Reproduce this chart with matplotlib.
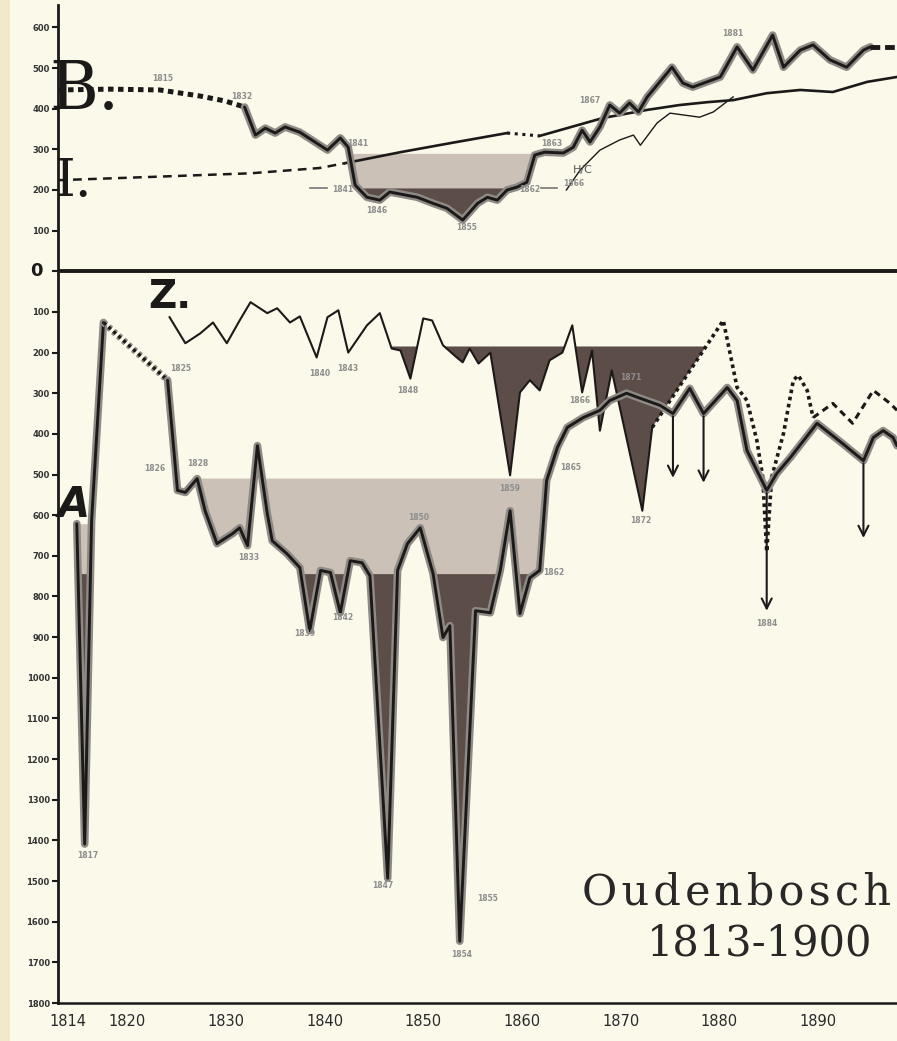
import matplotlib
matplotlib.use("Agg")
import matplotlib.pyplot as plt
import matplotlib.patheffects as pe
import matplotlib.transforms as mtransforms
from matplotlib.patches import Rectangle
import numpy as np

# ---- top panel (values above the zero line) ----
B_DOT_YEARS = [1813.0, 1818.3, 1823.3, 1827.4, 1829.9, 1831.9]
B_DOT_VALUES = [446, 448, 446, 431, 419, 404]
B_YEARS = [1831.9, 1833.0, 1834.0, 1835.0, 1836.0, 1837.5, 1840.3, 1841.6, 1842.4,
           1843.1, 1844.3, 1845.6, 1846.6, 1849.4, 1851.0, 1852.4, 1854.0, 1855.5,
           1856.5, 1857.5, 1858.5, 1859.5, 1860.5, 1861.3, 1862.3, 1864.2, 1865.2,
           1866.1, 1866.9, 1867.9, 1868.9, 1869.9, 1870.9, 1871.8, 1872.7, 1873.7,
           1875.2, 1876.3, 1877.3, 1880.1, 1881.8, 1883.4, 1885.4, 1886.5, 1888.2,
           1889.5, 1891.2, 1892.9, 1894.6, 1895.3]
B_VALUES = [404, 335, 352, 340, 355, 342, 298, 328, 305,
            212, 182, 175, 195, 182, 167, 155, 126, 167,
            182, 175, 200, 207, 219, 286, 293, 291, 305,
            347, 318, 355, 409, 389, 414, 392, 429, 458,
            502, 463, 453, 478, 552, 495, 581, 502, 544,
            557, 520, 502, 544, 552]
B_TAIL_YEARS = [1895.3, 1898.0]
B_TAIL_VALUES = [552, 552]

I_DASH_YEARS = [1813.0, 1822.3, 1832.5, 1839.5, 1842.1]
I_DASH_VALUES = [224, 232, 241, 254, 266]
I_YEARS_1 = [1842.1, 1847.7, 1852.7, 1858.5]
I_VALUES_1 = [266, 293, 315, 340]
I_GAP_YEARS = [1858.5, 1861.8]
I_GAP_VALUES = [340, 333]
I_YEARS_2 = [1861.8, 1868.2, 1872.7, 1876.0, 1878.8, 1881.4, 1884.8, 1888.2,
             1891.5, 1895.0, 1898.0]
I_VALUES_2 = [333, 377, 397, 409, 416, 421, 438, 446, 441, 466, 478]

HC_YEARS = [1864.5, 1865.9, 1867.9, 1869.9, 1871.3, 1872.0, 1873.7, 1875.0,
            1878.0, 1879.4, 1881.4]
HC_VALUES = [200, 249, 298, 323, 335, 310, 365, 389, 379, 392, 429]

TOP_LIGHT_LEVEL = 290
TOP_DARK_LEVEL = 205

# ---- bottom panel (values counted downward from the zero line) ----
A_YEARS = [1814.9, 1815.7, 1816.4, 1817.6, 1824.1, 1825.1, 1825.9, 1827.1, 1827.9,
           1829.1, 1830.7, 1831.4, 1832.2, 1833.2, 1834.2, 1834.7, 1836.2, 1837.5,
           1838.5, 1839.6, 1840.6, 1841.6, 1842.6, 1843.8, 1844.6, 1846.4, 1847.4,
           1848.4, 1849.7, 1851.0, 1852.0, 1852.7, 1853.7, 1855.3, 1856.8, 1857.8,
           1858.8, 1859.8, 1860.8, 1861.8, 1862.5, 1863.6, 1864.6, 1866.2, 1867.9,
           1868.9, 1870.6, 1871.7, 1874.0, 1875.3, 1877.0, 1878.4, 1880.8, 1881.8,
           1882.8, 1883.8, 1884.8, 1885.8, 1887.2, 1889.9, 1891.2, 1892.5, 1894.6,
           1895.6, 1896.6, 1897.6, 1898.0]
A_VALUES = [621, 1409, 613, 126, 268, 539, 544, 510, 589,
            670, 645, 631, 675, 429, 596, 663, 695, 729,
            884, 736, 741, 840, 712, 717, 749, 1493, 736,
            670, 631, 744, 901, 872, 1648, 835, 840, 736,
            589, 842, 754, 736, 515, 433, 384, 360, 342,
            318, 300, 310, 330, 350, 288, 350, 286, 318,
            441, 490, 539, 498, 458, 374, 399, 424, 466,
            409, 392, 409, 429]
A_DOTTED = (3, 4)  # index range drawn dotted (1817-1824)

Z_YEARS = [1824.3, 1825.9, 1827.4, 1828.7, 1830.1, 1831.4, 1832.5, 1834.2, 1835.2,
           1836.5, 1837.5, 1839.2, 1840.3, 1841.4, 1842.4, 1844.3, 1845.6, 1846.8,
           1847.7, 1848.7, 1850.0, 1850.9, 1852.0, 1853.4, 1854.0, 1854.7, 1855.6,
           1856.8, 1858.8, 1859.8, 1860.8, 1861.8, 1862.8, 1864.1, 1865.1, 1866.1,
           1867.1, 1867.9, 1869.1, 1872.2, 1873.2]
Z_VALUES = [113, 177, 153, 126, 177, 121, 76, 103, 91,
            126, 111, 212, 113, 96, 200, 133, 103, 190,
            195, 264, 116, 121, 182, 212, 224, 190, 227,
            200, 502, 298, 268, 293, 219, 200, 133, 298,
            195, 392, 244, 589, 384]
ZD_YEARS = [1873.2, 1880.4, 1881.8, 1882.8, 1883.8, 1884.4, 1884.8, 1885.3, 1886.5,
            1887.5, 1888.0, 1888.9, 1889.5]
ZD_VALUES = [384, 121, 286, 318, 416, 507, 690, 507, 399, 268, 256, 293, 360]
ZS_YEARS = [1889.5, 1891.5, 1893.5, 1895.6, 1897.3, 1898.0]
ZS_VALUES = [360, 325, 374, 293, 325, 342]

BOT_LIGHT_LEVEL = 510
BOT_DARK_LEVEL = 745
Z_LEVEL = 185

ARROW_YEARS = [1875.3, 1878.4, 1884.8, 1894.6]
ARROW_FROM = [350, 350, 539, 466]
ARROW_TO = [515, 527, 842, 663]

# small year tags written next to the curves (year, signed value)
TOP_TAGS = [("1815", 1823.6, 473), ("1832", 1831.6, 429), ("1841", 1843.4, 315),
            ("1841", 1841.8, 200), ("1846", 1845.3, 150), ("1855", 1854.4, 108),
            ("1862", 1860.8, 200), ("1863", 1863.0, 315), ("1866", 1865.2, 217),
            ("1867", 1866.9, 421), ("1881", 1881.4, 586)]
BOT_TAGS = [("1817", 1816.0, 1438), ("1825", 1825.4, 239), ("1826", 1822.8, 485),
            ("1828", 1827.2, 473), ("1833", 1832.3, 704), ("1839", 1838.0, 892),
            ("1842", 1841.8, 852), ("1840", 1839.5, 251), ("1843", 1842.3, 239),
            ("1848", 1848.4, 293), ("1850", 1849.5, 606), ("1859", 1858.8, 534),
            ("1865", 1864.9, 483), ("1862", 1863.2, 741), ("1866", 1865.9, 318),
            ("1872", 1872.0, 613), ("1871", 1871.0, 261), ("1884", 1884.8, 867),
            ("1847", 1845.9, 1512), ("1855", 1856.5, 1542), ("1854", 1853.9, 1680)]

X_TICKS = [1814, 1820, 1830, 1840, 1850, 1860, 1870, 1880, 1890]
TOP_TICKS = [100, 200, 300, 400, 500, 600]
BOT_TICKS = list(range(100, 1900, 100))

TITLE = "Oudenbosch"
SUBTITLE = "1813-1900"

PAPER = "#fbf9ea"
INK = "#1c1a19"
HALO = "#8e8a86"
LIGHT = "#cbc1b6"
DARK = "#5d4d48"


def neg(vals):
    return [-v for v in vals]


def spaced(s, gap="\u200a"):
    # the lettering of the original is a little tracked out
    return gap.join(s)


def halo_line(ax, x, y, **kw):
    ax.plot(x, y, color=INK, lw=2.1, solid_capstyle="round",
            path_effects=[pe.Stroke(linewidth=5.5, foreground=HALO), pe.Normal()],
            zorder=5, **kw)


def main():
    fig = plt.figure(figsize=(8.97, 10.41), dpi=100, facecolor=PAPER)
    # yellowed paper edge on the left
    fig.patches.append(Rectangle((0, 0), 0.011, 1, transform=fig.transFigure,
                                 facecolor="#f4e8cc", edgecolor="none", zorder=0))
    ax = fig.add_axes([0.0647, 0.0365, 0.9353, 0.9587])
    ax.set_facecolor(PAPER)
    ax.set_xlim(1813, 1898)
    ax.set_ylim(-1800, 655)

    # --- top panel fills ---
    bx = np.array(B_YEARS)
    by = np.array(B_VALUES)
    ax.fill_between(bx, TOP_LIGHT_LEVEL, by, where=by < TOP_LIGHT_LEVEL,
                    interpolate=True, color=LIGHT, lw=0, zorder=1)
    ax.fill_between(bx, TOP_DARK_LEVEL, by, where=by < TOP_DARK_LEVEL,
                    interpolate=True, color=DARK, lw=0, zorder=2)

    # --- bottom panel fills ---
    axx = np.array(A_YEARS)
    ay = np.array(A_VALUES)
    mid = (axx >= 1827.0) & (axx <= 1863.0)
    ax.fill_between(axx[mid], -BOT_LIGHT_LEVEL, -ay[mid], where=ay[mid] > BOT_LIGHT_LEVEL,
                    interpolate=True, color=LIGHT, lw=0, zorder=1)
    spike = axx <= 1816.4
    ax.fill_between(axx[spike], -ay[0], -ay[spike], color=LIGHT, lw=0, zorder=1)
    left = axx <= 1863.0
    ax.fill_between(axx[left], -BOT_DARK_LEVEL, -ay[left], where=ay[left] > BOT_DARK_LEVEL,
                    interpolate=True, color=DARK, lw=0, zorder=2)

    zx = np.array(Z_YEARS + ZD_YEARS[1:2])
    zy = np.array(Z_VALUES + ZD_VALUES[1:2])
    zm = zx >= 1846.5
    ax.fill_between(zx[zm], -Z_LEVEL, -zy[zm], where=zy[zm] > Z_LEVEL,
                    interpolate=True, color=DARK, lw=0, zorder=2)

    # --- top panel lines ---
    ax.plot(B_DOT_YEARS, B_DOT_VALUES, color=INK, lw=3.6, ls=(0, (1.1, 0.9)), zorder=5)
    halo_line(ax, B_YEARS, B_VALUES)
    ax.plot(B_TAIL_YEARS, B_TAIL_VALUES, color=INK, lw=3.5, ls=(0, (2, 1)), zorder=5)

    ax.plot(I_DASH_YEARS, I_DASH_VALUES, color=INK, lw=1.8, ls=(0, (3.5, 2.5)), zorder=4)
    ax.plot(I_YEARS_1, I_VALUES_1, color=INK, lw=1.9, zorder=4)
    ax.plot(I_GAP_YEARS, I_GAP_VALUES, color=INK, lw=2.2, ls=(0, (1, 1.5)), zorder=4)
    ax.plot(I_YEARS_2, I_VALUES_2, color=INK, lw=1.9, zorder=4)
    ax.plot(HC_YEARS, HC_VALUES, color=INK, lw=1.0, zorder=4)

    ax.plot([1838.5, 1840.3], [204, 204], color="#777777", lw=1.2, zorder=3)
    ax.plot([1861.9, 1863.6], [204, 204], color="#777777", lw=1.2, zorder=3)

    # --- bottom panel lines ---
    i0, i1 = A_DOTTED
    halo_line(ax, A_YEARS[:i0 + 1], neg(A_VALUES[:i0 + 1]))
    ax.plot(A_YEARS[i0:i1 + 1], neg(A_VALUES[i0:i1 + 1]), color=INK, lw=2.4,
            ls=(0, (1, 1)), zorder=5,
            path_effects=[pe.Stroke(linewidth=5, foreground=HALO), pe.Normal()])
    halo_line(ax, A_YEARS[i1:], neg(A_VALUES[i1:]))

    ax.plot(Z_YEARS, neg(Z_VALUES), color=INK, lw=1.5, zorder=4)
    ax.plot(ZD_YEARS, neg(ZD_VALUES), color=INK, lw=2.6, ls=(0, (1, 1)), zorder=4)
    ax.plot(ZS_YEARS, neg(ZS_VALUES), color=INK, lw=2.2, ls=(0, (2.2, 1.6)), zorder=4)

    for xa, y0, y1 in zip(ARROW_YEARS, ARROW_FROM, ARROW_TO):
        ax.annotate("", xy=(xa, -y1), xytext=(xa, -y0),
                    arrowprops=dict(arrowstyle="->", color=INK, lw=1.5,
                                    mutation_scale=18),
                    zorder=6)

    # --- year tags ---
    for txt, x, v in TOP_TAGS:
        ax.text(x, v, txt, fontsize=5.5, color="#8d8d8d", ha="center", va="center",
                fontweight="bold", zorder=7)
    for txt, x, v in BOT_TAGS:
        ax.text(x, -v, txt, fontsize=5.5, color="#8d8d8d", ha="center", va="center",
                fontweight="bold", zorder=7)

    # --- big letters ---
    ax.text(1815.7, 446, "B.", fontsize=48, family="DejaVu Serif", color=INK,
            ha="center", va="center", zorder=8)
    ax.text(1814.5, 222, "I.", fontsize=38, family="DejaVu Serif", color=INK,
            ha="center", va="center", zorder=8)
    ax.text(1824.3, -64, "Z.", fontsize=28, fontweight="bold", color=INK,
            ha="center", va="center", zorder=8)
    ax.text(1814.6, -576, "A", fontsize=30, fontweight="bold", fontstyle="italic",
            color=INK, ha="center", va="center", zorder=8)
    ax.text(1866.2, 249, "H/C", fontsize=8, color="#555555", ha="center",
            va="center", zorder=8)

    # --- axes ---
    ax.axhline(0, color=INK, lw=2.8, zorder=6)
    for s in ("top", "right"):
        ax.spines[s].set_visible(False)
    ax.spines["left"].set_linewidth(2.0)
    ax.spines["bottom"].set_linewidth(1.8)
    ax.spines["left"].set_color(INK)
    ax.spines["bottom"].set_color(INK)

    yt = TOP_TICKS + [0] + [-v for v in BOT_TICKS]
    ax.set_yticks(yt)
    ax.set_yticklabels(["" if v == 0 else str(abs(v)) for v in yt], fontsize=6,
                       fontweight="bold", color="#333333")
    ax.tick_params(axis="y", direction="out", length=4, width=1.5, pad=2, color=INK)
    trans = mtransforms.blended_transform_factory(ax.transAxes, ax.transData)
    ax.text(-0.026, 0, "0", transform=trans, fontsize=13, fontweight="bold",
            color=INK, ha="center", va="center", clip_on=False)

    ax.set_xticks(X_TICKS)
    ax.set_xticklabels([str(t) for t in X_TICKS], fontsize=10.5, color="#2a2a2a")
    ax.tick_params(axis="x", length=0, pad=8)

    fig.text(0.8216, 0.1422, spaced(TITLE), fontsize=31, family="DejaVu Serif",
             color="#2a2826", ha="center", va="center")
    fig.text(0.847, 0.0941, SUBTITLE, fontsize=30,
             family="DejaVu Serif", color="#2a2826", ha="center", va="center")

    fig.savefig("out.png", dpi=100, facecolor=PAPER)


if __name__ == "__main__":
    main()
